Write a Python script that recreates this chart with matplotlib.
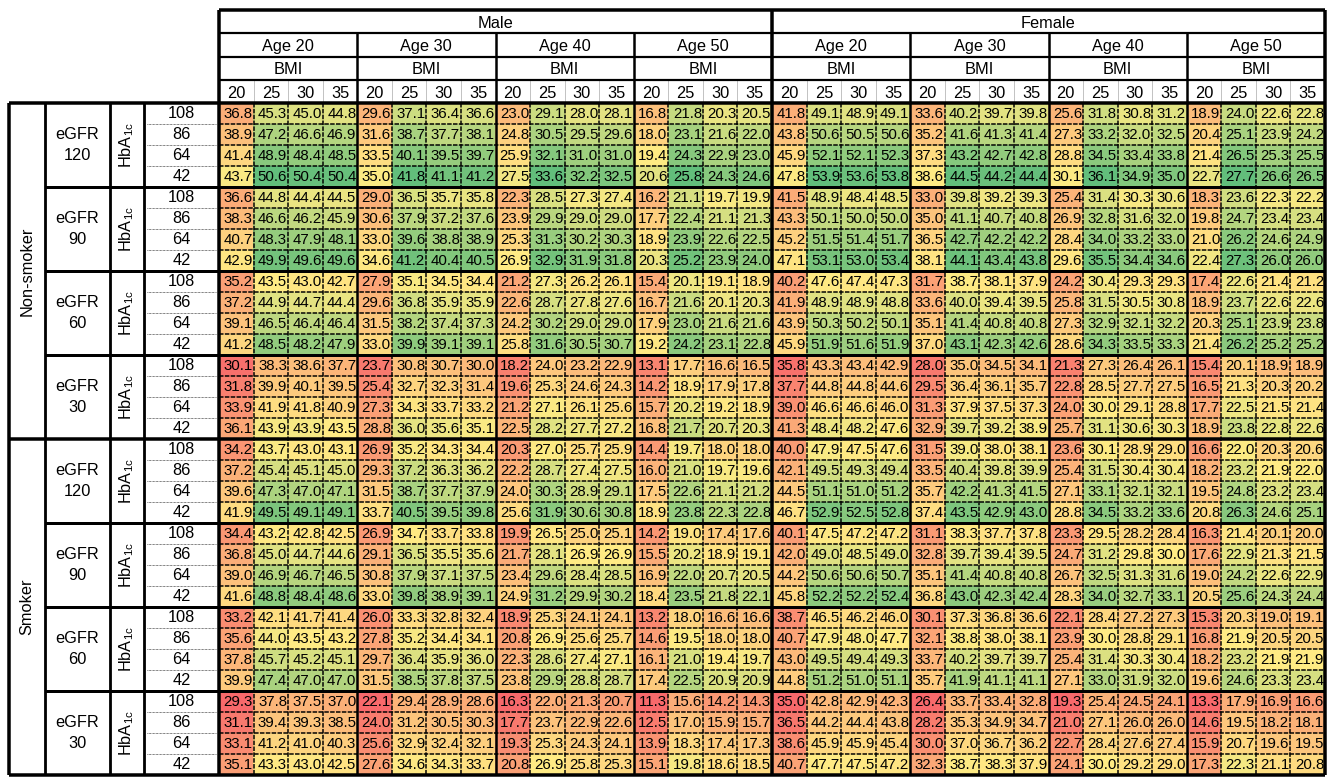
import numpy as np
import matplotlib
matplotlib.use("Agg")
import matplotlib.pyplot as plt
from matplotlib.colors import to_rgb

plt.rcParams['font.family'] = ['Liberation Sans', 'DejaVu Sans']
plt.rcParams['mathtext.fontset'] = 'custom'
plt.rcParams['mathtext.rm'] = 'Liberation Sans'
plt.rcParams['mathtext.it'] = 'Liberation Sans:italic'
plt.rcParams['mathtext.default'] = 'regular'

# ---------------- data ----------------
sexes = ["Male", "Female"]
ages = ["Age 20", "Age 30", "Age 40", "Age 50"]
bmi_values = ["20", "25", "30", "35"]
smoking_groups = ["Non-smoker", "Smoker"]
egfr_values = ["120", "90", "60", "30"]
hba1c_values = ["108", "86", "64", "42"]

# rows: eGFR 120 (HbA1c 108,86,64,42), eGFR 90, eGFR 60, eGFR 30
# cols: Age 20 (BMI 20,25,30,35), Age 30, Age 40, Age 50
male_nonsmoker = [
    [36.8, 45.3, 45.0, 44.8, 29.6, 37.1, 36.4, 36.6, 23.0, 29.1, 28.0, 28.1, 16.8, 21.8, 20.3, 20.5],
    [38.9, 47.2, 46.6, 46.9, 31.6, 38.7, 37.7, 38.1, 24.8, 30.5, 29.5, 29.6, 18.0, 23.1, 21.6, 22.0],
    [41.4, 48.9, 48.4, 48.5, 33.5, 40.1, 39.5, 39.7, 25.9, 32.1, 31.0, 31.0, 19.4, 24.3, 22.9, 23.0],
    [43.7, 50.6, 50.4, 50.4, 35.0, 41.8, 41.1, 41.2, 27.5, 33.6, 32.2, 32.5, 20.6, 25.8, 24.3, 24.6],
    [36.6, 44.8, 44.4, 44.5, 29.0, 36.5, 35.7, 35.8, 22.3, 28.5, 27.3, 27.4, 16.2, 21.1, 19.7, 19.9],
    [38.3, 46.6, 46.2, 45.9, 30.6, 37.9, 37.2, 37.6, 23.9, 29.9, 29.0, 29.0, 17.7, 22.4, 21.1, 21.3],
    [40.7, 48.3, 47.9, 48.1, 33.0, 39.6, 38.8, 38.9, 25.3, 31.3, 30.2, 30.3, 18.9, 23.9, 22.6, 22.5],
    [42.9, 49.9, 49.6, 49.6, 34.6, 41.2, 40.4, 40.5, 26.9, 32.9, 31.9, 31.8, 20.3, 25.2, 23.9, 24.0],
    [35.2, 43.5, 43.0, 42.7, 27.9, 35.1, 34.5, 34.4, 21.2, 27.3, 26.2, 26.1, 15.4, 20.1, 19.1, 18.9],
    [37.2, 44.9, 44.7, 44.4, 29.6, 36.8, 35.9, 35.9, 22.6, 28.7, 27.8, 27.6, 16.7, 21.6, 20.1, 20.3],
    [39.1, 46.5, 46.4, 46.4, 31.5, 38.2, 37.4, 37.3, 24.2, 30.2, 29.0, 29.0, 17.9, 23.0, 21.6, 21.6],
    [41.2, 48.5, 48.2, 47.9, 33.0, 39.9, 39.1, 39.1, 25.8, 31.6, 30.5, 30.7, 19.2, 24.2, 23.1, 22.8],
    [30.1, 38.3, 38.6, 37.7, 23.7, 30.8, 30.7, 30.0, 18.2, 24.0, 23.2, 22.9, 13.1, 17.7, 16.6, 16.5],
    [31.8, 39.9, 40.1, 39.5, 25.4, 32.7, 32.3, 31.4, 19.6, 25.3, 24.6, 24.3, 14.2, 18.9, 17.9, 17.8],
    [33.9, 41.9, 41.8, 40.9, 27.3, 34.3, 33.7, 33.2, 21.2, 27.1, 26.1, 25.6, 15.7, 20.2, 19.2, 18.9],
    [36.1, 43.9, 43.9, 43.5, 28.8, 36.0, 35.6, 35.1, 22.5, 28.2, 27.7, 27.2, 16.8, 21.7, 20.7, 20.3],
]
female_nonsmoker = [
    [41.8, 49.1, 48.9, 49.1, 33.6, 40.2, 39.7, 39.8, 25.6, 31.8, 30.8, 31.2, 18.9, 24.0, 22.6, 22.8],
    [43.8, 50.6, 50.5, 50.6, 35.2, 41.6, 41.3, 41.4, 27.3, 33.2, 32.0, 32.5, 20.4, 25.1, 23.9, 24.2],
    [45.9, 52.1, 52.1, 52.3, 37.3, 43.2, 42.7, 42.8, 28.8, 34.5, 33.4, 33.8, 21.4, 26.5, 25.3, 25.5],
    [47.8, 53.9, 53.6, 53.8, 38.6, 44.5, 44.2, 44.4, 30.1, 36.1, 34.9, 35.0, 22.7, 27.7, 26.6, 26.5],
    [41.5, 48.9, 48.4, 48.5, 33.0, 39.8, 39.2, 39.3, 25.4, 31.4, 30.3, 30.6, 18.3, 23.6, 22.3, 22.2],
    [43.3, 50.1, 50.0, 50.0, 35.0, 41.1, 40.7, 40.8, 26.9, 32.8, 31.6, 32.0, 19.8, 24.7, 23.4, 23.4],
    [45.2, 51.5, 51.4, 51.7, 36.5, 42.7, 42.2, 42.2, 28.4, 34.0, 33.2, 33.0, 21.0, 26.2, 24.6, 24.9],
    [47.1, 53.1, 53.0, 53.4, 38.1, 44.1, 43.4, 43.8, 29.6, 35.5, 34.4, 34.6, 22.4, 27.3, 26.0, 26.0],
    [40.2, 47.6, 47.4, 47.3, 31.7, 38.7, 38.1, 37.9, 24.2, 30.4, 29.3, 29.3, 17.4, 22.6, 21.4, 21.2],
    [41.9, 48.9, 48.9, 48.8, 33.6, 40.0, 39.4, 39.5, 25.8, 31.5, 30.5, 30.8, 18.9, 23.7, 22.6, 22.6],
    [43.9, 50.3, 50.2, 50.1, 35.1, 41.4, 40.8, 40.8, 27.3, 32.9, 32.1, 32.2, 20.3, 25.1, 23.9, 23.8],
    [45.9, 51.9, 51.6, 51.9, 37.0, 43.1, 42.3, 42.6, 28.6, 34.3, 33.5, 33.3, 21.4, 26.2, 25.2, 25.2],
    [35.8, 43.3, 43.4, 42.9, 28.0, 35.0, 34.5, 34.1, 21.3, 27.3, 26.4, 26.1, 15.4, 20.1, 18.9, 18.9],
    [37.7, 44.8, 44.8, 44.6, 29.5, 36.4, 36.1, 35.7, 22.8, 28.5, 27.7, 27.5, 16.5, 21.3, 20.3, 20.2],
    [39.0, 46.6, 46.6, 46.0, 31.3, 37.9, 37.5, 37.3, 24.0, 30.0, 29.1, 28.8, 17.7, 22.5, 21.5, 21.4],
    [41.3, 48.4, 48.2, 47.6, 32.9, 39.7, 39.2, 38.9, 25.7, 31.1, 30.6, 30.3, 18.9, 23.8, 22.8, 22.6],
]
male_smoker = [
    [34.2, 43.7, 43.0, 43.1, 26.9, 35.2, 34.3, 34.4, 20.3, 27.0, 25.7, 25.9, 14.4, 19.7, 18.0, 18.0],
    [37.2, 45.4, 45.1, 45.0, 29.3, 37.2, 36.3, 36.2, 22.2, 28.7, 27.4, 27.5, 16.0, 21.0, 19.7, 19.6],
    [39.6, 47.3, 47.0, 47.1, 31.5, 38.7, 37.7, 37.9, 24.0, 30.3, 28.9, 29.1, 17.5, 22.6, 21.1, 21.2],
    [41.9, 49.5, 49.1, 49.1, 33.7, 40.5, 39.5, 39.8, 25.6, 31.9, 30.6, 30.8, 18.9, 23.8, 22.3, 22.8],
    [34.4, 43.2, 42.8, 42.5, 26.9, 34.7, 33.7, 33.8, 19.9, 26.5, 25.0, 25.1, 14.2, 19.0, 17.4, 17.6],
    [36.8, 45.0, 44.7, 44.6, 29.1, 36.5, 35.5, 35.6, 21.7, 28.1, 26.9, 26.9, 15.5, 20.2, 18.9, 19.1],
    [39.0, 46.9, 46.7, 46.5, 30.8, 37.9, 37.1, 37.5, 23.4, 29.6, 28.4, 28.5, 16.9, 22.0, 20.7, 20.5],
    [41.6, 48.8, 48.4, 48.6, 33.0, 39.8, 38.9, 39.1, 24.9, 31.2, 29.9, 30.2, 18.4, 23.5, 21.8, 22.1],
    [33.2, 42.1, 41.7, 41.4, 26.0, 33.3, 32.8, 32.4, 18.9, 25.3, 24.1, 24.1, 13.2, 18.0, 16.6, 16.6],
    [35.6, 44.0, 43.5, 43.2, 27.8, 35.2, 34.4, 34.1, 20.8, 26.9, 25.6, 25.7, 14.6, 19.5, 18.0, 18.0],
    [37.8, 45.7, 45.2, 45.1, 29.7, 36.4, 35.9, 36.0, 22.3, 28.6, 27.4, 27.1, 16.1, 21.0, 19.4, 19.7],
    [39.9, 47.4, 47.0, 47.0, 31.5, 38.5, 37.8, 37.5, 23.8, 29.9, 28.8, 28.7, 17.4, 22.5, 20.9, 20.9],
    [29.3, 37.8, 37.5, 37.0, 22.1, 29.4, 28.9, 28.6, 16.3, 22.0, 21.3, 20.7, 11.3, 15.6, 14.2, 14.3],
    [31.1, 39.4, 39.3, 38.5, 24.0, 31.2, 30.5, 30.3, 17.7, 23.7, 22.9, 22.6, 12.5, 17.0, 15.9, 15.7],
    [33.1, 41.2, 41.0, 40.3, 25.6, 32.9, 32.4, 32.1, 19.3, 25.3, 24.3, 24.1, 13.9, 18.3, 17.4, 17.3],
    [35.1, 43.3, 43.0, 42.5, 27.6, 34.6, 34.3, 33.7, 20.8, 26.9, 25.8, 25.3, 15.1, 19.8, 18.6, 18.5],
]
female_smoker = [
    [40.0, 47.9, 47.5, 47.6, 31.5, 39.0, 38.0, 38.1, 23.6, 30.1, 28.9, 29.0, 16.6, 22.0, 20.3, 20.6],
    [42.1, 49.5, 49.3, 49.4, 33.5, 40.4, 39.8, 39.9, 25.4, 31.5, 30.4, 30.4, 18.2, 23.2, 21.9, 22.0],
    [44.5, 51.1, 51.0, 51.2, 35.7, 42.2, 41.3, 41.5, 27.1, 33.1, 32.1, 32.1, 19.5, 24.8, 23.2, 23.4],
    [46.7, 52.9, 52.5, 52.8, 37.4, 43.5, 42.9, 43.0, 28.8, 34.5, 33.2, 33.6, 20.8, 26.3, 24.6, 25.1],
    [40.1, 47.5, 47.2, 47.2, 31.1, 38.3, 37.7, 37.8, 23.3, 29.5, 28.2, 28.4, 16.3, 21.4, 20.1, 20.0],
    [42.0, 49.0, 48.5, 49.0, 32.8, 39.7, 39.4, 39.5, 24.7, 31.2, 29.8, 30.0, 17.6, 22.9, 21.3, 21.5],
    [44.2, 50.6, 50.6, 50.7, 35.1, 41.4, 40.8, 40.8, 26.7, 32.5, 31.3, 31.6, 19.0, 24.2, 22.6, 22.9],
    [45.8, 52.2, 52.2, 52.4, 36.8, 43.0, 42.3, 42.4, 28.3, 34.0, 32.7, 33.1, 20.5, 25.6, 24.3, 24.4],
    [38.7, 46.5, 46.2, 46.0, 30.1, 37.3, 36.8, 36.6, 22.1, 28.4, 27.2, 27.3, 15.3, 20.3, 19.0, 19.1],
    [40.7, 47.9, 48.0, 47.7, 32.1, 38.8, 38.0, 38.1, 23.9, 30.0, 28.8, 29.1, 16.8, 21.9, 20.5, 20.5],
    [43.0, 49.5, 49.4, 49.3, 33.7, 40.2, 39.7, 39.7, 25.4, 31.4, 30.3, 30.4, 18.2, 23.2, 21.9, 21.9],
    [44.8, 51.2, 51.0, 51.1, 35.7, 41.9, 41.1, 41.1, 27.1, 33.0, 31.9, 32.0, 19.6, 24.6, 23.3, 23.4],
    [35.0, 42.8, 42.9, 42.3, 26.4, 33.7, 33.4, 32.8, 19.3, 25.4, 24.5, 24.1, 13.3, 17.9, 16.9, 16.6],
    [36.5, 44.2, 44.4, 43.8, 28.2, 35.3, 34.9, 34.7, 21.0, 27.1, 26.0, 26.0, 14.6, 19.5, 18.2, 18.1],
    [38.6, 45.9, 45.9, 45.4, 30.0, 37.0, 36.7, 36.2, 22.7, 28.4, 27.6, 27.4, 15.9, 20.7, 19.6, 19.5],
    [40.7, 47.7, 47.5, 47.2, 32.3, 38.7, 38.3, 37.9, 24.1, 30.0, 29.2, 29.0, 17.3, 22.3, 21.1, 20.8],
]

# ---------------- assemble ----------------
V = np.vstack([np.hstack([male_nonsmoker, female_nonsmoker]),
               np.hstack([male_smoker, female_smoker])])
nrows, ncols = V.shape

RED, YEL, GRN = np.array(to_rgb("#F8696B")), np.array(to_rgb("#FFEB84")), np.array(to_rgb("#63BE7B"))
rgb = np.zeros((nrows, ncols, 3))
for b in range(ncols // 4):
    blk = V[:, 4 * b:4 * b + 4]
    lo, mid, hi = blk.min(), np.percentile(blk, 50), blk.max()
    for r in range(nrows):
        for c in range(4):
            v = blk[r, c]
            if v <= mid:
                t = (v - lo) / (mid - lo)
                col = RED + t * (YEL - RED)
            else:
                t = (v - mid) / (hi - mid)
                col = YEL + t * (GRN - YEL)
            rgb[r, 4 * b + c] = col

# ---------------- layout (pixel geometry -> table units) ----------------
W, H = 1327, 779
X0, X1 = 219.0, 1325.0
Y0, Y1 = 103.0, 775.0
CW = (X1 - X0) / ncols
RH = (Y1 - Y0) / nrows
def X(px): return (px - X0) / CW
def Y(py): return (py - Y0) / RH
def LW(px): return px * 72.0 / 100.0

fig = plt.figure(figsize=(W / 100, H / 100), dpi=100)
ax = fig.add_axes([0, 0, 1, 1])
ax.set_xlim(X(0), X(W))
ax.set_ylim(Y(H), Y(0))
ax.axis("off")

ax.imshow(rgb, extent=(0, ncols, nrows, 0), aspect="auto", interpolation="nearest", zorder=1)

FS_DATA = 10.8
FS_HEAD = 11.8
pad = 1.0 / CW
for r in range(nrows):
    for c in range(ncols):
        ax.text(c + 1 - pad, r + 0.53, f"{V[r, c]:.1f}", ha="right", va="center",
                fontsize=FS_DATA, color="black", zorder=4)

# ---- internal data grid (dashed) ----
dash = (0, (3.0, 0.9))
for c in range(1, ncols):
    if c % 4 != 0:
        ax.vlines(c, 0, nrows, colors="black", lw=LW(1.5), linestyles=[dash], zorder=3)
for r in range(1, nrows):
    if r % 4 != 0:
        ax.hlines(r, 0, ncols, colors="black", lw=LW(1.5), linestyles=[dash], zorder=3)

# ---- header ----
hy = [Y(10), Y(33), Y(57), Y(80), 0]
for i, s in enumerate(sexes):
    ax.text(16 * i + 8, (hy[0] + hy[1]) / 2, s, ha="center", va="center_baseline", fontsize=FS_HEAD)
    for j, a in enumerate(ages):
        cx = 16 * i + 4 * j + 2
        ax.text(cx, (hy[1] + hy[2]) / 2, a, ha="center", va="center_baseline", fontsize=FS_HEAD)
        ax.text(cx, (hy[2] + hy[3]) / 2, "BMI", ha="center", va="center_baseline", fontsize=FS_HEAD)
        for k, bm in enumerate(bmi_values):
            ax.text(16 * i + 4 * j + k + 0.5, (hy[3] + hy[4]) / 2, bm, ha="center",
                    va="center_baseline", fontsize=FS_HEAD)
for c in range(1, ncols):
    if c % 4 != 0:
        ax.vlines(c, hy[3], 0, colors="#888888", lw=LW(1.0), linestyles=[(0, (1.0, 1.0))], zorder=3)

ax.hlines(hy[0], 0, ncols, colors="black", lw=LW(3.5), zorder=5)
ax.hlines([hy[1], hy[2], hy[3]], 0, ncols, colors="black", lw=LW(2.2), zorder=5)
for c in range(4, ncols, 4):
    if c == 16:
        ax.vlines(c, hy[0], nrows, colors="black", lw=LW(3.5), zorder=5)
    else:
        ax.vlines(c, hy[1], nrows, colors="black", lw=LW(2.5), zorder=5)
ax.vlines([0, ncols], hy[0], nrows, colors="black", lw=LW(3.5), zorder=5)

# ---- left labels ----
xl = [X(9), X(45), X(110), X(144), 0]
ax.hlines(0, xl[0], ncols, colors="black", lw=LW(3.5), zorder=5)
ax.hlines(nrows, xl[0], ncols, colors="black", lw=LW(3.5), zorder=5)
ax.hlines(16, xl[0], ncols, colors="black", lw=LW(3.5), zorder=5)
for r in range(4, nrows, 4):
    if r != 16:
        ax.hlines(r, xl[1], ncols, colors="black", lw=LW(3.0), zorder=5)
ax.vlines(xl[0], 0, nrows, colors="black", lw=LW(3.5), zorder=5)
ax.vlines(xl[1:4], 0, nrows, colors="black", lw=LW(2.8), zorder=5)

for r in range(1, nrows):
    if r % 4 != 0:
        ax.hlines(r, X(147), X(216), colors="#555555", lw=LW(1.0),
                  linestyles=[(0, (0.7, 0.7))], zorder=3)

for g, sg in enumerate(smoking_groups):
    ax.text((xl[0] + xl[1]) / 2, 16 * g + 8, sg, rotation=90, ha="center", va="center",
            fontsize=FS_HEAD)
    for e, eg in enumerate(egfr_values):
        y0 = 16 * g + 4 * e
        ax.text((xl[1] + xl[2]) / 2, y0 + 2, f"eGFR\n{eg}", ha="center", va="center",
                fontsize=FS_HEAD, linespacing=1.45, multialignment="center")
        ax.text((xl[2] + xl[3]) / 2, y0 + 2, r"HbA$_{1c}$", rotation=90, ha="center",
                va="center", fontsize=FS_HEAD)
        for h, hv in enumerate(hba1c_values):
            ax.text((xl[3] + xl[4]) / 2, y0 + h + 0.52, hv, ha="center", va="center",
                    fontsize=FS_HEAD)

fig.savefig("out.png", dpi=100)
